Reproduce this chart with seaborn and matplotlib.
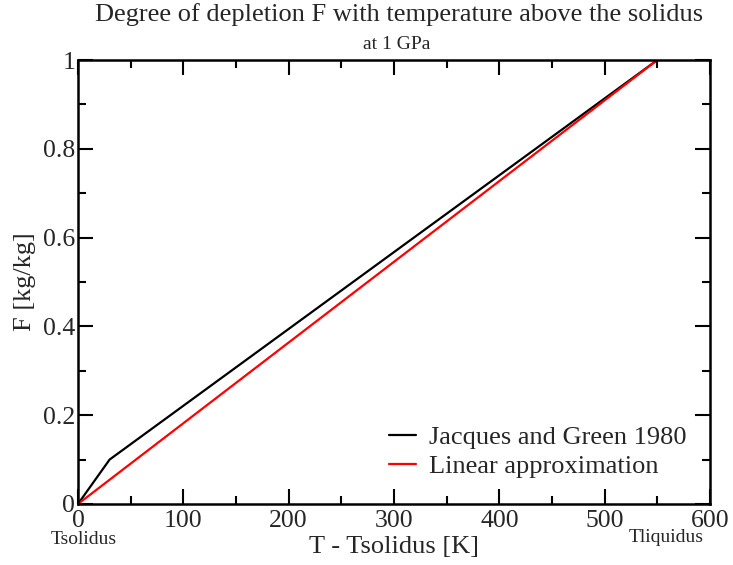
import matplotlib
matplotlib.use("Agg")
import matplotlib.pyplot as plt
import seaborn as sns
import pandas as pd
from matplotlib.ticker import MultipleLocator

jg_T = [0, 30, 550]
jg_F = [0.0, 0.1, 1.0]
lin_T = [0, 550]
lin_F = [0.0, 1.0]
series_names = ["Jacques and Green 1980", "Linear approximation"]
series_colors = ["#000000", "#ff0000"]

df = pd.concat([
    pd.DataFrame({"T": jg_T, "F": jg_F, "series": series_names[0]}),
    pd.DataFrame({"T": lin_T, "F": lin_F, "series": series_names[1]}),
])

sns.set_theme(style="ticks")
plt.rcParams["font.family"] = ["Liberation Serif", "DejaVu Serif"]

fig = plt.figure(figsize=(7.33, 5.65), dpi=100)
ax = fig.add_axes([0.1064, 0.108, 0.8622, 0.7858])

sns.lineplot(data=df, x="T", y="F", hue="series", palette=series_colors,
             hue_order=series_names, sort=False, estimator=None, ax=ax, linewidth=1.6)

ax.set_xlim(0, 600)
ax.set_ylim(0, 1)
ax.xaxis.set_major_locator(MultipleLocator(100))
ax.xaxis.set_minor_locator(MultipleLocator(50))
ax.yaxis.set_major_locator(MultipleLocator(0.2))
ax.yaxis.set_minor_locator(MultipleLocator(0.1))
ax.yaxis.set_major_formatter(plt.FuncFormatter(lambda v, p: "0" if abs(v) < 1e-9 else ("1" if abs(v - 1) < 1e-9 else f"{v:.1f}")))
ax.tick_params(which="both", direction="in", top=True, right=True, width=1.5, color="black")
ax.tick_params(which="major", length=11, labelsize=18.5)
ax.tick_params(axis="x", which="major", pad=4)
ax.tick_params(axis="y", which="major", pad=2)
ax.tick_params(which="minor", length=6)
for s in ax.spines.values():
    s.set_linewidth(1.8)
    s.set_color("black")

ax.set_xlabel("T - Tsolidus [K]", fontsize=19, labelpad=3)
ax.set_ylabel("F [kg/kg]", fontsize=19, labelpad=5)

fig.text(399 / 733, 0.975, "Degree of depletion F with temperature above the solidus",
         ha="center", va="center", fontsize=19)
fig.text(397 / 733, 0.922, "at 1 GPa", ha="center", va="center", fontsize=14)

fig.text(84 / 733, 1 - 539 / 565, "Tsolidus", ha="center", va="center", fontsize=14)
fig.text(666 / 733, 1 - 538 / 565, "Tliquidus", ha="center", va="center", fontsize=14)

leg = ax.legend(loc="lower right", frameon=False, fontsize=19, handlelength=1.0,
                bbox_to_anchor=(1.0, 0.005), labelspacing=0.2, handletextpad=0.5)

fig.savefig("out.png", dpi=100)
